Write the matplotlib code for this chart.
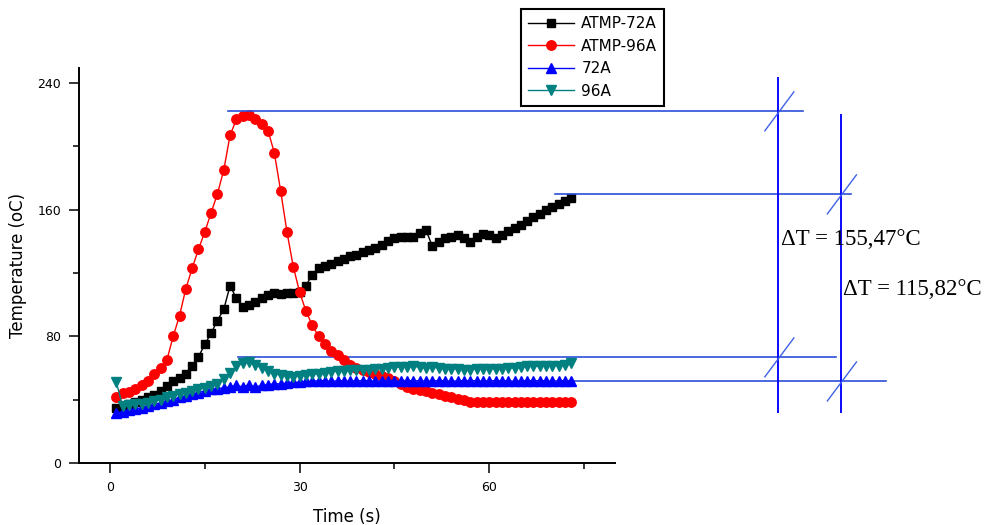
import matplotlib.pyplot as plt
from matplotlib.ticker import MultipleLocator

plt.rcParams['font.family'] = ['DejaVu Sans']

# time axis (s), one reading per second
time_s = list(range(1, 74))

atmp_72a = [35, 36, 37, 38.5, 40, 41.5, 43, 45.5, 48.5, 51.5,
            54, 56.5, 61, 67, 75, 82, 90, 97, 112, 104,
            98.5, 100, 102, 104, 106, 107.5, 107, 107.5, 107.5, 108,
            112, 119, 123, 124.5, 126, 127.5, 129, 130.5, 131.5, 133,
            134.5, 136, 138, 140, 142, 143, 143, 143, 145, 147,
            137, 139.5, 142, 143, 144, 142, 139.5, 143, 144.5, 144,
            142, 144, 146.5, 148.5, 150.5, 153, 155.5, 157.5, 159.5, 161.5,
            163.5, 165.5, 167.5]

atmp_96a = [42, 44, 45, 47, 49, 52, 56, 60, 65, 80,
            93, 110, 123, 135, 146, 158, 170, 185, 207, 217,
            219, 220, 217, 214, 210, 196, 172, 146, 124, 108,
            96, 87, 80, 75, 71, 68, 65, 62, 60, 58.5,
            57.5, 56.5, 55, 53.5, 52, 50, 48, 47, 46, 45.5,
            44.5, 43.5, 42.5, 41.5, 40.5, 39.5, 38.7, 38.7, 38.7, 38.7,
            38.7, 38.7, 38.7, 38.7, 38.7, 38.7, 38.7, 38.7, 38.7, 38.7,
            38.7, 38.7, 38.7]

a72 = [31.5, 32.5, 33.5, 34, 35, 36, 37, 38, 39, 40,
       41.5, 42.5, 43.5, 44.5, 45.5, 46.5, 47, 47.5, 48, 49,
       48, 49.5, 48, 49, 49.5, 50, 50, 50.5, 51, 51,
       51.5, 51.5, 52, 52, 51.5, 52, 52, 51.5, 52, 52,
       52, 51.5, 52, 52, 52, 51.5, 52, 52, 52, 51.5,
       52, 52, 52, 51.5, 52, 52, 52, 52, 51.5, 52,
       52, 52, 52, 51.5, 52, 52, 52, 52, 52, 51.5,
       52, 52, 52]

a96 = [51, 36, 36.5, 37, 37.5, 38, 39, 40, 41.5, 42.5,
       43.5, 44.5, 45.5, 46.5, 47.5, 48.5, 50, 53, 57, 61,
       63, 63.5, 62, 60, 58, 56.5, 55.5, 55, 54.5, 55,
       55.5, 56, 56.5, 57, 57.5, 58, 58, 58.5, 58.5, 58.5,
       59, 59.5, 59.5, 60, 60.5, 60.5, 60.5, 61, 60.5, 60,
       60.5, 60, 59.5, 59.5, 59.5, 59, 59, 59.5, 59.5, 59.5,
       59.5, 59.5, 60, 60, 60.5, 61, 61, 61, 61.5, 61.5,
       61.5, 62, 63]

series_names = ['ATMP-72A', 'ATMP-96A', '72A', '96A']

# reference levels for the delta-T construction
peak_96 = 222.4
end_72 = 170
max_a96 = 67
level_a72 = 51.8
dT_labels = ['ΔT = 155,47°C', 'ΔT = 115,82°C']

fig = plt.figure(figsize=(9.9, 5.25), dpi=100)
ax = fig.add_axes([79/990, 1 - 463/525, 536/990, 395/525])

styles = [('black', 's', 6.3), ('red', 'o', 6.8), ('blue', '^', 6.8), ('#008080', 'v', 7.2)]
for vals, name, (c, m, ms) in zip([atmp_72a, atmp_96a, a72, a96], series_names, styles):
    ax.plot(time_s, vals, color=c, marker=m, markersize=ms, lw=1.0, label=name)

ax.set_xlim(-4.9, 79.9)
ax.set_ylim(0, 249.5)
ax.xaxis.set_major_locator(MultipleLocator(30))
ax.xaxis.set_minor_locator(MultipleLocator(15))
ax.yaxis.set_major_locator(MultipleLocator(80))
ax.yaxis.set_minor_locator(MultipleLocator(40))
for s in ['top', 'right']:
    ax.spines[s].set_visible(False)
for s in ['left', 'bottom']:
    ax.spines[s].set_linewidth(1.4)
ax.tick_params(which='major', direction='out', length=7, width=1.1, labelsize=9, pad=6)
ax.tick_params(which='minor', direction='out', length=4, width=1.1)
ax.set_xlabel('Time (s)', fontsize=12, labelpad=10)
ax.set_ylabel('Temperature (oC)', fontsize=12, labelpad=7)

# delta-T construction, drawn outside the axes
hcol = '#2c4fd8'
vcol = '#0a0aff'
scol = '#3f62e6'
kw = dict(clip_on=False, transform=ax.transData)
ax.plot([18.7, 109.7], [peak_96, peak_96], color=hcol, lw=1.2, **kw)
ax.plot([70.4, 117.3], [end_72, end_72], color=hcol, lw=1.2, **kw)
ax.plot([20.3, 114.8], [max_a96, max_a96], color=hcol, lw=1.2, zorder=1, **kw)
ax.plot([72.0, 122.7], [level_a72, level_a72], color=hcol, lw=1.2, zorder=1, **kw)
x1, x2 = 105.7, 115.6
ax.plot([x1, x1], [243, 32.2], color=vcol, lw=1.4, **kw)
ax.plot([x2, x2], [219.8, 32.2], color=vcol, lw=1.4, **kw)
for xv, yv in [(x1, peak_96), (x1, max_a96), (x2, end_72), (x2, level_a72)]:
    ax.plot([xv - 2.1, xv + 2.5], [yv - 12.6, yv + 12.0], color=scol, lw=1.0, **kw)
ax.text(106.1, 141, dT_labels[0], fontsize=16.5, family='Liberation Serif',
        va='center', ha='left', clip_on=False)
ax.text(116.0, 109.5, dT_labels[1], fontsize=16.5, family='Liberation Serif',
        va='center', ha='left', clip_on=False)

leg = fig.legend(loc='upper left', bbox_to_anchor=(521/990, 1 - 9/525),
                 frameon=True, fancybox=False, edgecolor='black', framealpha=1,
                 fontsize=11, borderpad=0.45, labelspacing=0.5, handlelength=3.0,
                 handletextpad=0.5, borderaxespad=0)
leg.get_frame().set_linewidth(1.5)

fig.savefig('out.png', dpi=100)
